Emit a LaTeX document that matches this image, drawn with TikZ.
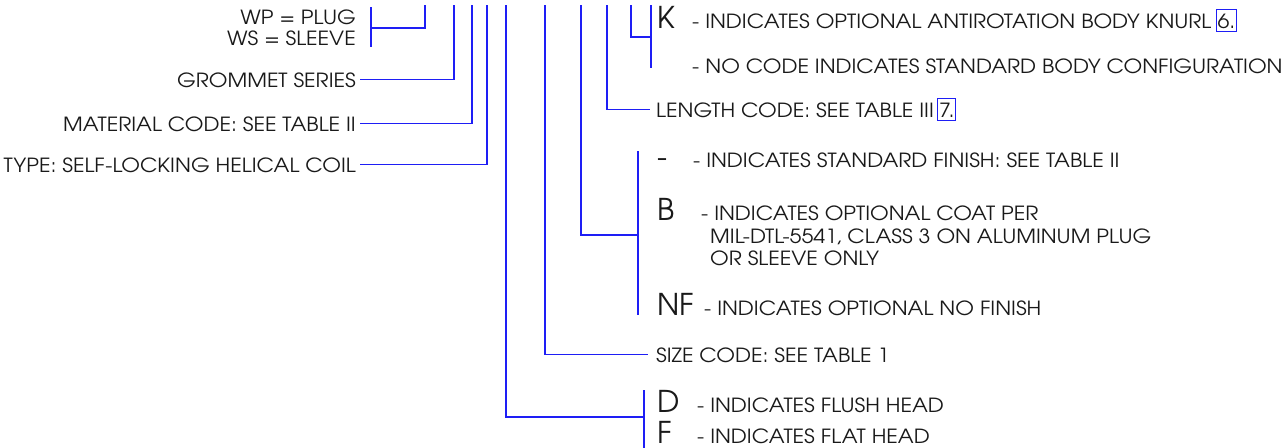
\documentclass[tikz,border=0pt]{standalone}
\usepackage{fontspec}
\setmainfont{TeX Gyre Adventor}[FakeStretch=1.1]
\newfontfamily\bigfont{TeX Gyre Adventor}
\definecolor{ln}{RGB}{30,30,245}
\definecolor{tx}{RGB}{25,25,25}
\begin{document}
\begin{tikzpicture}[x=1pt,y=-1pt,
  wire/.style={draw=ln, line width=1.4pt},
  lt/.style={anchor=base west, inner sep=0pt, text=tx, font=\fontsize{19.5}{19.5}\selectfont},
  rt/.style={lt, anchor=base east},
  bg/.style={lt, font=\bigfont\fontsize{30}{30}\selectfont},
  refbox/.style={draw=ln, line width=1pt, inner sep=1.5pt, text=tx, text height=17pt, text depth=2pt, anchor=base west, font=\fontsize{19.5}{19.5}\selectfont}]
\useasboundingbox (0,0) rectangle (1287,447);
% left labels
\node[rt] (wp) at (356,24) {WP = PLUG};
\node[rt] (ws) at (356,45) {WS = SLEEVE};
\node[rt] (grom) at (356,87) {GROMMET SERIES};
\node[rt] (mat) at (356,131) {MATERIAL CODE: SEE TABLE II};
\node[rt] (typ) at (356,172) {TYPE: SELF-LOCKING HELICAL COIL};
% right labels
\node[bg] (k) at (657,28) {K};
\node[lt] (kt) at (692,28) {- INDICATES OPTIONAL ANTIROTATION BODY KNURL};
\node[refbox] (n6) at ([xshift=4pt]kt.base east) {6.};
\node[lt] (nc) at (692,73) {- NO CODE INDICATES STANDARD BODY CONFIGURATION};
\node[lt] (len) at (656,117) {LENGTH CODE: SEE TABLE III};
\node[refbox] (n7) at ([xshift=3pt]len.base east) {7.};
\node[bg] (dash) at (657,167) {-};
\node[lt] (fs) at (693,167) {- INDICATES STANDARD FINISH: SEE TABLE II};
\node[bg] (b) at (657,220) {B};
\node[lt] (bt1) at (701,220) {- INDICATES OPTIONAL COAT PER};
\node[lt] (bt2) at (710,243) {MIL-DTL-5541, CLASS 3 ON ALUMINUM PLUG};
\node[lt] (bt3) at (710,265) {OR SLEEVE ONLY};
\node[bg] (nf) at (657,315) {NF};
\node[lt] (nft) at (704,315) {- INDICATES OPTIONAL NO FINISH};
\node[lt] (sz) at (656,362) {SIZE CODE: SEE TABLE 1};
\node[bg] (d) at (657,412) {D};
\node[lt] (dt) at (697,412) {- INDICATES FLUSH HEAD};
\node[bg] (f) at (657,443) {F};
\node[lt] (ft) at (697,443) {- INDICATES FLAT HEAD};
% coordinates
\coordinate (t1) at (425,5);
\coordinate (t2) at (454,5);
\coordinate (t3) at (472,5);
\coordinate (t4) at (487,5);
\coordinate (t5) at (506,5);
\coordinate (t6) at (545,5);
\coordinate (t7) at (581,5);
\coordinate (t8) at (607,5);
\coordinate (t9) at (631,5);
\coordinate (wpa) at (371,7);
\coordinate (wpm) at (371,28);
\coordinate (wpb) at (371,47);
\coordinate (kba) at (651,5);
\coordinate (kbm) at (651,37);
\coordinate (kbb) at (651,68);
\coordinate (fba) at (638,151);
\coordinate (fbm) at (638,235);
\coordinate (fbb) at (638,315);
\coordinate (hba) at (644,390);
\coordinate (hbm) at (644,417);
\coordinate (hbb) at (644,448);
% connectors
\draw[wire] (wpa) -- (wpb);
\draw[wire] (t1) |- (wpm);
\draw[wire] (t2) |- ([xshift=4pt]grom.east);
\draw[wire] (t3) |- ([xshift=4pt]mat.east);
\draw[wire] (t4) |- ([xshift=4pt]typ.east);
\draw[wire] (t5) |- (hbm);
\draw[wire] (hba) -- (hbb);
\draw[wire] (t6) |- ([xshift=-8pt]sz.west);
\draw[wire] (t7) |- (fbm);
\draw[wire] (fba) -- (fbb);
\draw[wire] (t8) |- ([xshift=-6pt]len.west);
\draw[wire] (t9) |- (kbm);
\draw[wire] (kba) -- (kbb);
\end{tikzpicture}
\end{document}
